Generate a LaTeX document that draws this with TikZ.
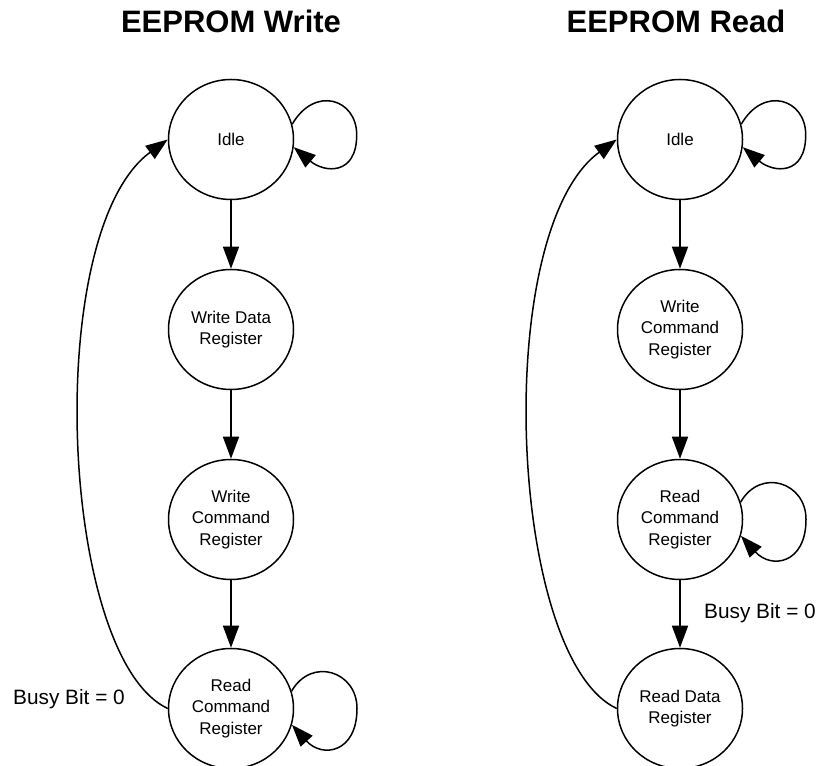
\documentclass[tikz,border=0pt]{standalone}
\usepackage{fontspec}
\setmainfont{Liberation Sans}
\usetikzlibrary{shapes.geometric,arrows.meta}
\begin{document}
\begin{tikzpicture}[x=1pt,y=1pt,
  state/.style={ellipse, draw, line width=1.5pt, minimum width=125pt, minimum height=120pt,
    inner sep=0pt, align=center, font=\fontsize{17}{21.5}\selectfont},
  arr/.style={line width=1.5pt, -{Triangle[length=22pt,width=16pt]}},
  title/.style={font=\bfseries\fontsize{31}{37}\selectfont, inner sep=0pt},
  lbl/.style={font=\fontsize{20.8}{25}\selectfont, inner sep=0pt}]
\useasboundingbox (0,0) rectangle (817,766);

% titles
\node[title, anchor=base] (tw) at (231,733.3) {EEPROM Write};
\node[title, anchor=base] (tr) at (676,733.3) {EEPROM Read};

% left column
\node[state] (i1) at (231,626.5) {Idle};
\node[state] (wd1) at (231,436.5) {Write Data\\Register};
\node[state] (wc1) at (231,246.5) {Write\\Command\\Register};
\node[state] (rc1) at (231,57.5) {Read\\Command\\Register};

\draw[arr] (i1.south) -- (wd1.north);
\draw[arr] (wd1.south) -- (wc1.north);
\draw[arr] (wc1.south) -- (rc1.north);
\draw[arr] (i1.14) .. controls +(60:45) and +(0,36) .. ++(64.5,-10.6)
                  .. controls +(0,-41) and +(-40:40) .. (i1.-7);
\draw[arr] (rc1.16) .. controls +(60:40) and +(0,37) .. ++(65.4,-17.2)
                   .. controls +(0,-45) and +(-48:45) .. (rc1.-15);
\draw[arr] (rc1.west) .. controls +(-108.5,50.6) and +(-126.2,-91.9) .. (i1.west);
\node[lbl, anchor=base west] (b1) at (13,61.5) {Busy Bit = 0};

% right column
\node[state] (i2) at (680,626.5) {Idle};
\node[state] (wc2) at (680,436.5) {Write\\Command\\Register};
\node[state] (rc2) at (680,246.5) {Read\\Command\\Register};
\node[state] (rd2) at (680,57.5) {Read Data\\Register};

\draw[arr] (i2.south) -- (wc2.north);
\draw[arr] (wc2.south) -- (rc2.north);
\draw[arr] (rc2.south) -- (rd2.north);
\draw[arr] (i2.14) .. controls +(60:45) and +(0,36) .. ++(64.5,-10.6)
                  .. controls +(0,-41) and +(-40:40) .. (i2.-7);
\draw[arr] (rc2.16) .. controls +(60:40) and +(0,37) .. ++(65.4,-17.2)
                   .. controls +(0,-45) and +(-48:45) .. (rc2.-15);
\draw[arr] (rd2.west) .. controls +(-108.5,50.6) and +(-126.2,-91.9) .. (i2.west);
\node[lbl, anchor=base west] (b2) at (704,147.5) {Busy Bit = 0};
\end{tikzpicture}
\end{document}
